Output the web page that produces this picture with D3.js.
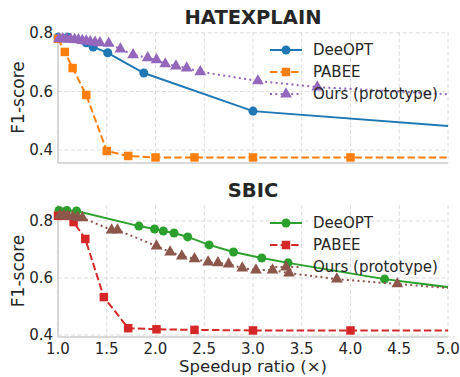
<!DOCTYPE html>
<html>
<head>
<meta charset="utf-8">
<script src="https://cdn.jsdelivr.net/npm/d3@7"></script>
<style>
  body { margin: 0; background: #fff; }
  text { font-family: "DejaVu Sans", sans-serif; fill: #262626; }
</style>
</head>
<body>
<div id="chart"></div>
<script>
// HATEXPLAIN
var hxDeeX = [1.0, 1.1, 1.29, 1.36, 1.51, 1.88, 3.0, 5.5];
var hxDeeY = [0.785, 0.785, 0.766, 0.752, 0.732, 0.663, 0.533, 0.47];
var hxPabX = [1.0, 1.07, 1.15, 1.29, 1.5, 1.72, 2.0, 2.4, 3.0, 4.0, 5.5];
var hxPabY = [0.78, 0.735, 0.68, 0.588, 0.397, 0.38, 0.375, 0.375, 0.375, 0.375, 0.375];
var hxOurX = [1.01, 1.05, 1.09, 1.13, 1.17, 1.21, 1.25, 1.29, 1.33, 1.38, 1.43, 1.52, 1.64, 1.77, 1.92, 2.01, 2.10, 2.21, 2.32, 2.46, 3.05, 3.66, 5.3];
var hxOurY = [0.78, 0.78, 0.779, 0.778, 0.777, 0.776, 0.774, 0.772, 0.77, 0.768, 0.766, 0.764, 0.745, 0.725, 0.715, 0.708, 0.694, 0.687, 0.68, 0.667, 0.636, 0.615, 0.585];

// SBIC
var sbDeeX = [1.01, 1.09, 1.19, 1.83, 1.99, 2.08, 2.19, 2.33, 2.55, 2.80, 3.09, 3.36, 4.35, 5.3];
var sbDeeY = [0.837, 0.837, 0.835, 0.782, 0.772, 0.765, 0.758, 0.744, 0.716, 0.691, 0.670, 0.653, 0.596, 0.555];
var sbPabX = [1.0, 1.08, 1.16, 1.28, 1.47, 1.72, 2.01, 2.40, 3.0, 4.0, 5.5];
var sbPabY = [0.818, 0.818, 0.796, 0.737, 0.533, 0.424, 0.42, 0.418, 0.416, 0.416, 0.416];
var sbOurX = [1.02, 1.06, 1.1, 1.15, 1.2, 1.25, 1.55, 1.61, 2.01, 2.15, 2.27, 2.40, 2.54, 2.64, 2.75, 2.89, 3.03, 3.20, 3.37, 3.86, 4.48, 5.3];
var sbOurY = [0.82, 0.818, 0.816, 0.815, 0.813, 0.811, 0.768, 0.768, 0.712, 0.691, 0.677, 0.667, 0.656, 0.653, 0.649, 0.635, 0.628, 0.628, 0.617, 0.596, 0.579, 0.557];

var xTicks = [1.0, 1.5, 2.0, 2.5, 3.0, 3.5, 4.0, 4.5, 5.0];
var yTicks = [0.4, 0.6, 0.8];
var names = ["DeeOPT", "PABEE", "Ours (prototype)"];

var width = 460, height = 377;
var svg = d3.select('#chart').append('svg')
  .attr('width', width).attr('height', height);

var x = d3.scaleLinear().domain([1, 5]).range([58, 448]);

function panel(id, title, yDomain, top, bottom, series, colours, showX) {
  var y = d3.scaleLinear().domain(yDomain).range([bottom, top]);
  var g = svg.append('g');

  g.append('clipPath').attr('id', id)
    .append('rect').attr('x', 50).attr('y', top - 8)
    .attr('width', 448 - 50).attr('height', bottom - top + 8);

  // grid
  g.selectAll('.gx').data(xTicks).enter().append('line')
    .attr('x1', d => x(d)).attr('x2', d => x(d))
    .attr('y1', top).attr('y2', bottom)
    .attr('stroke', '#dcdcdc').attr('stroke-width', 1).attr('stroke-dasharray', '4,2.5');
  g.selectAll('.gy').data(yTicks).enter().append('line')
    .attr('x1', 58).attr('x2', 448)
    .attr('y1', d => y(d)).attr('y2', d => y(d))
    .attr('stroke', '#dcdcdc').attr('stroke-width', 1).attr('stroke-dasharray', '4,2.5');

  // spines
  g.append('line').attr('x1', 58).attr('x2', 58).attr('y1', top).attr('y2', bottom)
    .attr('stroke', '#cccccc').attr('stroke-width', 1.5);
  g.append('line').attr('x1', 58).attr('x2', 448).attr('y1', bottom).attr('y2', bottom)
    .attr('stroke', '#cccccc').attr('stroke-width', 1.5);

  // tick labels
  g.selectAll('.ty').data(yTicks).enter().append('text')
    .attr('x', 53).attr('y', d => y(d)).attr('dy', '0.35em')
    .attr('text-anchor', 'end').style('font-size', '15px')
    .text(d => d3.format('.1f')(d));
  if (showX) {
    g.selectAll('.tx').data(xTicks).enter().append('text')
      .attr('x', d => x(d)).attr('y', bottom + 17)
      .attr('text-anchor', 'middle').style('font-size', '15px')
      .text(d => d3.format('.1f')(d));
  }

  g.append('text').attr('x', 253).attr('y', top - 8)
    .attr('text-anchor', 'middle').style('font-size', '19.5px').style('font-weight', 'bold')
    .text(title);
  g.append('text')
    .attr('transform', 'translate(24,' + ((top + bottom) / 2) + ') rotate(-90)')
    .attr('text-anchor', 'middle').style('font-size', '17px')
    .text('F1-score');

  var styles = [
    { dash: null, marker: d3.symbolCircle, size: 64 },
    { dash: '7.4,3.2', marker: d3.symbolSquare, size: 72 },
    { dash: '2,3.3', marker: d3.symbolTriangle, size: 60 }
  ];

  var plot = g.append('g').attr('clip-path', 'url(#' + id + ')');
  series.forEach(function(s, k) {
    var pts = s[0].map((v, i) => [v, s[1][i]]);
    plot.append('path').datum(pts)
      .attr('d', d3.line().x(d => x(d[0])).y(d => y(d[1])))
      .attr('fill', 'none').attr('stroke', colours[k]).attr('stroke-width', 2)
      .attr('stroke-dasharray', styles[k].dash);
    plot.selectAll('.m' + k).data(pts).enter().append('path')
      .attr('d', d3.symbol().type(styles[k].marker).size(styles[k].size))
      .attr('transform', d => 'translate(' + x(d[0]) + ',' + y(d[1]) + ')')
      .attr('fill', colours[k]);
  });

  // legend, no frame
  var lg = g.append('g');
  names.forEach(function(n, k) {
    var ly = top + 18 + k * 22;
    lg.append('line').attr('x1', 270).attr('x2', 302).attr('y1', ly).attr('y2', ly)
      .attr('stroke', colours[k]).attr('stroke-width', 2)
      .attr('stroke-dasharray', styles[k].dash);
    lg.append('path')
      .attr('d', d3.symbol().type(styles[k].marker).size(styles[k].size))
      .attr('transform', 'translate(286,' + ly + ')')
      .attr('fill', colours[k]);
    lg.append('text').attr('x', 313).attr('y', ly).attr('dy', '0.35em')
      .style('font-size', '15px').text(n);
  });
}

panel('c1', 'HATEXPLAIN', [0.356, 0.803], 32, 163,
  [[hxDeeX, hxDeeY], [hxPabX, hxPabY], [hxOurX, hxOurY]],
  ['#1f77b4', '#ff7f0e', '#9467bd'], false);
panel('c2', 'SBIC', [0.393, 0.856], 205, 337,
  [[sbDeeX, sbDeeY], [sbPabX, sbPabY], [sbOurX, sbOurY]],
  ['#2ca02c', '#d62728', '#8c564b'], true);

svg.append('text').attr('x', 253).attr('y', 372)
  .attr('text-anchor', 'middle').style('font-size', '16.5px')
  .text('Speedup ratio (×)');
</script>
</body>
</html>
